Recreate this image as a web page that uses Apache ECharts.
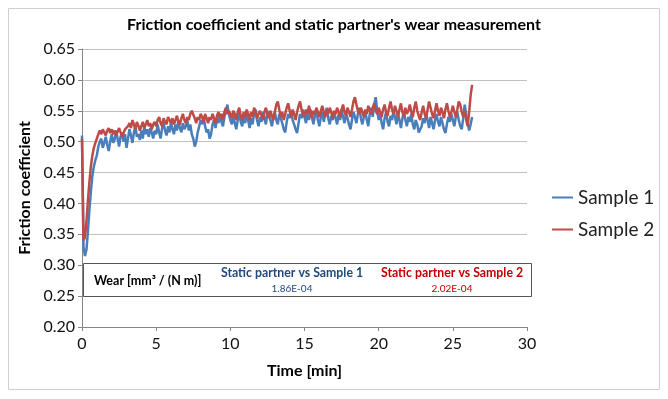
<!DOCTYPE html>
<html>
<head>
<meta charset="utf-8">
<script src="https://cdn.jsdelivr.net/npm/echarts@6/dist/echarts.min.js"></script>
<style>
  html, body { margin: 0; padding: 0; background: #fff; }
  #main { width: 668px; height: 399px; }
</style>
</head>
<body>
<div id="main"></div>
<script>
// sampling step of the measurement [min]
var step = 0.1

// Sample 1 friction coefficient, one row per minute
var sample1 = [
  0.510, 0.330, 0.315, 0.325, 0.355, 0.390, 0.420, 0.445, 0.460, 0.470,
  0.478, 0.492, 0.500, 0.505, 0.490, 0.498, 0.508, 0.495, 0.485, 0.500,
  0.512, 0.498, 0.503, 0.518, 0.505, 0.492, 0.508, 0.515, 0.500, 0.512,
  0.490, 0.505, 0.520, 0.510, 0.498, 0.515, 0.525, 0.508, 0.512, 0.503,
  0.518, 0.505, 0.525, 0.512, 0.520, 0.508, 0.522, 0.515, 0.505, 0.518,
  0.512, 0.528, 0.515, 0.505, 0.522, 0.530, 0.518, 0.510, 0.525, 0.515,
  0.532, 0.520, 0.512, 0.528, 0.518, 0.535, 0.522, 0.515, 0.530, 0.520,
  0.525, 0.535, 0.518, 0.528, 0.512, 0.505, 0.492, 0.500, 0.515, 0.525,
  0.535, 0.528, 0.540, 0.525, 0.515, 0.520, 0.505, 0.512, 0.528, 0.535,
  0.522, 0.538, 0.530, 0.545, 0.532, 0.525, 0.540, 0.548, 0.560, 0.545,
  0.535, 0.528, 0.542, 0.530, 0.520, 0.535, 0.548, 0.532, 0.525, 0.540,
  0.530, 0.545, 0.535, 0.522, 0.538, 0.528, 0.545, 0.552, 0.535, 0.525,
  0.540, 0.532, 0.548, 0.538, 0.528, 0.550, 0.542, 0.535, 0.525, 0.540,
  0.548, 0.535, 0.528, 0.545, 0.538, 0.530, 0.520, 0.515, 0.532, 0.545,
  0.538, 0.550, 0.535, 0.528, 0.520, 0.514, 0.530, 0.545, 0.538, 0.552,
  0.540, 0.530, 0.545, 0.535, 0.552, 0.540, 0.528, 0.542, 0.550, 0.535,
  0.525, 0.540, 0.548, 0.532, 0.545, 0.555, 0.538, 0.528, 0.542, 0.535,
  0.548, 0.538, 0.528, 0.545, 0.535, 0.552, 0.540, 0.530, 0.545, 0.538,
  0.528, 0.520, 0.535, 0.548, 0.540, 0.530, 0.545, 0.555, 0.538, 0.528,
  0.540, 0.550, 0.535, 0.525, 0.545, 0.555, 0.540, 0.560, 0.572, 0.550,
  0.535, 0.545, 0.530, 0.520, 0.538, 0.548, 0.532, 0.525, 0.542, 0.535,
  0.550, 0.540, 0.528, 0.545, 0.535, 0.522, 0.538, 0.548, 0.535, 0.525,
  0.540, 0.532, 0.545, 0.528, 0.520, 0.535, 0.528, 0.515, 0.512, 0.525,
  0.538, 0.530, 0.545, 0.535, 0.522, 0.540, 0.530, 0.520, 0.535, 0.545,
  0.532, 0.525, 0.540, 0.530, 0.520, 0.514, 0.528, 0.540, 0.532, 0.545,
  0.535, 0.525, 0.540, 0.548, 0.535, 0.525, 0.520, 0.538, 0.560, 0.545,
  0.530, 0.518, 0.528, 0.540
]

// Sample 2 friction coefficient
var sample2 = [
  0.505, 0.340, 0.345, 0.370, 0.405, 0.435, 0.460, 0.478, 0.490, 0.498,
  0.505, 0.512, 0.518, 0.512, 0.520, 0.515, 0.510, 0.518, 0.522, 0.514,
  0.520, 0.512, 0.518, 0.510, 0.516, 0.522, 0.515, 0.508, 0.514, 0.520,
  0.518, 0.525, 0.530, 0.522, 0.535, 0.528, 0.520, 0.532, 0.526, 0.518,
  0.525, 0.532, 0.522, 0.528, 0.535, 0.525, 0.530, 0.520, 0.528, 0.532,
  0.525, 0.535, 0.540, 0.530, 0.525, 0.538, 0.532, 0.528, 0.540, 0.535,
  0.530, 0.538, 0.528, 0.535, 0.542, 0.532, 0.528, 0.538, 0.545, 0.535,
  0.530, 0.540, 0.535, 0.545, 0.550, 0.548, 0.538, 0.530, 0.540, 0.535,
  0.545, 0.540, 0.532, 0.545, 0.538, 0.530, 0.540, 0.535, 0.545, 0.538,
  0.530, 0.542, 0.548, 0.538, 0.545, 0.535, 0.548, 0.555, 0.545, 0.550,
  0.545, 0.538, 0.550, 0.545, 0.535, 0.548, 0.555, 0.542, 0.535, 0.548,
  0.540, 0.552, 0.545, 0.535, 0.548, 0.540, 0.555, 0.548, 0.538, 0.545,
  0.550, 0.542, 0.535, 0.548, 0.555, 0.545, 0.538, 0.550, 0.542, 0.535,
  0.548, 0.560, 0.565, 0.552, 0.540, 0.548, 0.535, 0.545, 0.555, 0.562,
  0.550, 0.540, 0.552, 0.545, 0.535, 0.548, 0.558, 0.565, 0.552, 0.545,
  0.540, 0.552, 0.545, 0.558, 0.548, 0.538, 0.550, 0.545, 0.555, 0.548,
  0.540, 0.550, 0.558, 0.548, 0.540, 0.552, 0.545, 0.555, 0.548, 0.538,
  0.550, 0.545, 0.555, 0.548, 0.540, 0.552, 0.560, 0.548, 0.542, 0.555,
  0.548, 0.540, 0.552, 0.565, 0.572, 0.560, 0.550, 0.545, 0.555, 0.548,
  0.540, 0.552, 0.545, 0.558, 0.550, 0.545, 0.555, 0.562, 0.550, 0.545,
  0.555, 0.548, 0.540, 0.552, 0.560, 0.548, 0.542, 0.555, 0.565, 0.552,
  0.545, 0.558, 0.550, 0.540, 0.552, 0.562, 0.548, 0.540, 0.555, 0.545,
  0.550, 0.560, 0.548, 0.540, 0.555, 0.565, 0.550, 0.542, 0.535, 0.548,
  0.558, 0.545, 0.538, 0.552, 0.565, 0.555, 0.545, 0.538, 0.550, 0.562,
  0.550, 0.542, 0.555, 0.548, 0.538, 0.552, 0.562, 0.550, 0.540, 0.548,
  0.558, 0.548, 0.540, 0.552, 0.565, 0.560, 0.548, 0.540, 0.550, 0.535,
  0.525, 0.548, 0.575, 0.592
]

// wear table
var wearLabel = 'Wear [mm³ / (N m)]'
var wearHeads = ['Static partner vs Sample 1', 'Static partner vs Sample 2']
var wearValues = ['1.86E-04', '2.02E-04']

function toPairs(values) {
  return values.map(function (v, i) {
    return [Math.round(i * step * 10) / 10, v]
  })
}

var font = 'Lato, "Open Sans", sans-serif'
var myChart = echarts.init(document.getElementById('main'), null, { renderer: 'canvas' })

var option = {
  animation: false,
  backgroundColor: '#fff',
  textStyle: { fontFamily: font },
  title: {
    text: "Friction coefficient and static partner's wear measurement",
    left: 'center',
    top: 12,
    textStyle: { fontFamily: font, fontSize: 16, fontWeight: 'bold', color: '#000' }
  },
  legend: {
    orient: 'vertical',
    left: 547,
    top: 183,
    icon: 'rect',
    itemWidth: 21,
    itemHeight: 2,
    itemGap: 13,
    textStyle: { fontFamily: font, fontSize: 19, color: '#222' },
    data: ['Sample 1', 'Sample 2']
  },
  grid: { left: 82, right: 141, top: 49, bottom: 72 },
  xAxis: {
    type: 'value',
    min: 0,
    max: 30,
    interval: 5,
    name: 'Time [min]',
    nameLocation: 'middle',
    nameGap: 36,
    nameTextStyle: { fontFamily: font, fontSize: 16, fontWeight: 'bold', color: '#000' },
    axisLine: { lineStyle: { color: '#868686' } },
    axisTick: { show: true, length: 4, lineStyle: { color: '#868686' } },
    axisLabel: { fontSize: 16, color: '#111', margin: 9 },
    splitLine: { show: false }
  },
  yAxis: {
    type: 'value',
    min: 0.2,
    max: 0.65,
    interval: 0.05,
    name: 'Friction coefficient',
    nameLocation: 'middle',
    nameGap: 46,
    nameTextStyle: { fontFamily: font, fontSize: 16, fontWeight: 'bold', color: '#000' },
    axisLine: { show: true, lineStyle: { color: '#868686' } },
    axisTick: { show: true, length: 4, lineStyle: { color: '#868686' } },
    axisLabel: {
      fontSize: 16,
      color: '#111',
      margin: 7,
      formatter: function (v) { return v.toFixed(2) }
    },
    splitLine: { lineStyle: { color: '#c0c0c0' } }
  },
  series: [
    {
      name: 'Sample 1',
      type: 'line',
      showSymbol: false,
      color: '#4A7EBB',
      lineStyle: { width: 2.5 },
      data: toPairs(sample1)
    },
    {
      name: 'Sample 2',
      type: 'line',
      showSymbol: false,
      color: '#BE4B48',
      lineStyle: { width: 2.5 },
      data: toPairs(sample2)
    }
  ],
  graphic: [
    // outer frame
    {
      type: 'rect',
      shape: { x: 8.5, y: 8.5, width: 651, height: 381 },
      style: { fill: 'none', stroke: '#d0d0d0', lineWidth: 1 },
      z: 0
    },
    // wear table box
    {
      type: 'rect',
      shape: { x: 83.5, y: 263.5, width: 448, height: 33 },
      style: { fill: '#fff', stroke: '#555', lineWidth: 1 },
      z: 50
    },
    {
      type: 'text',
      x: 94, y: 281,
      style: { text: wearLabel, font: 'bold 12.5px ' + font, fill: '#000', textVerticalAlign: 'middle' },
      z: 51
    },
    {
      type: 'text',
      x: 292, y: 273,
      style: { text: wearHeads[0], font: 'bold 12.3px ' + font, fill: '#1F497D', textAlign: 'center', textVerticalAlign: 'middle' },
      z: 51
    },
    {
      type: 'text',
      x: 292, y: 289,
      style: { text: wearValues[0], font: '10px ' + font, fill: '#1F497D', textAlign: 'center', textVerticalAlign: 'middle' },
      z: 51
    },
    {
      type: 'text',
      x: 452, y: 273,
      style: { text: wearHeads[1], font: 'bold 12.3px ' + font, fill: '#C00000', textAlign: 'center', textVerticalAlign: 'middle' },
      z: 51
    },
    {
      type: 'text',
      x: 452, y: 289,
      style: { text: wearValues[1], font: '10px ' + font, fill: '#C00000', textAlign: 'center', textVerticalAlign: 'middle' },
      z: 51
    }
  ]
}

myChart.setOption(option)
</script>
</body>
</html>
